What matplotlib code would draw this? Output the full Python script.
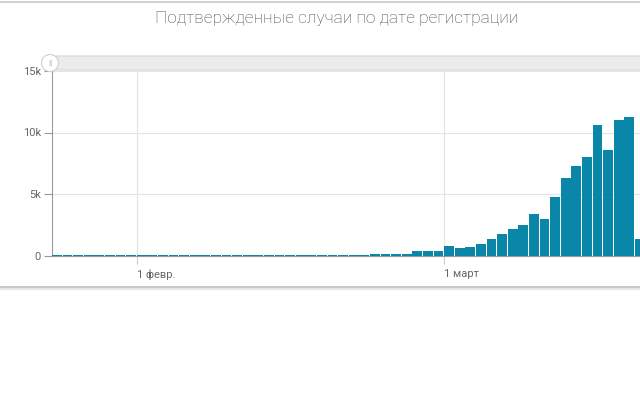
import datetime as dt
import matplotlib

matplotlib.use('Agg')
import matplotlib.pyplot as plt
import matplotlib.dates as mdates
from matplotlib.patches import FancyBboxPatch, Ellipse
from matplotlib.lines import Line2D

plt.rcParams['font.family'] = ['Roboto', 'DejaVu Sans']

# daily confirmed cases, 24 Jan .. 19 Mar 2020
start = dt.date(2020, 1, 24)
cases = [
    20, 25, 30, 28, 35, 30, 32, 30,                      # 24-31 Jan
    28, 30, 32, 30, 28, 30, 33, 30, 28, 30,              # 1-10 Feb
    32, 30, 28, 30, 30, 28, 30, 32, 30, 60,              # 11-20 Feb
    70, 65, 140, 130, 135, 140, 350, 350, 380,           # 21-29 Feb
    760, 600, 700, 920, 1330, 1730, 2140, 2470, 3360, 2980,   # 1-10 Mar
    4740, 6290, 7260, 7990, 10620, 8560, 11000, 11250, 1330,  # 11-19 Mar
]
dates = [start + dt.timedelta(days=i) for i in range(len(cases))]

title = 'Подтвержденные случаи по дате регистрации'
y_ticks = [0, 5000, 10000, 15000]
y_labels = ['0', '5k', '10k', '15k']
x_ticks = [dt.date(2020, 2, 1), dt.date(2020, 3, 1)]
x_labels = ['1 февр.', '1 март']

W, H = 640, 408
fig = plt.figure(figsize=(W / 100, H / 100), dpi=100)


def fx(px):
    return px / W


def fy(py):
    return 1 - py / H


# card borders
fig.add_artist(Line2D([0, 1], [fy(2), fy(2)], color='#c8c8c8', lw=1.2))
fig.add_artist(Line2D([0, 1], [fy(287), fy(287)], color='#bdbdbd', lw=1.2))
fig.add_artist(Line2D([0, 1], [fy(289), fy(289)], color='#e6e6e6', lw=1.5))

fig.text(fx(337), fy(19), title, ha='center', va='center', fontsize=12.5,
         color='#4a4a4a', fontweight='light')

# plot area
left, right, top, bottom = 52, 640, 71, 255.5
ax = fig.add_axes([fx(left), fy(bottom), fx(right - left), (bottom - top) / H])
ax.bar(dates, cases, width=0.93, align='edge', color='#0a86a8', zorder=3)

ax.set_xlim(mdates.date2num(start), mdates.date2num(start) + (right - left) / 10.6)
ax.set_ylim(0, 15000)
ax.set_yticks(y_ticks)
ax.set_yticklabels(y_labels)
ax.set_xticks(x_ticks)
ax.set_xticklabels(x_labels, ha='left')
ax.grid(True, color='#e4e4e4', lw=0.8, zorder=0)
ax.tick_params(axis='y', length=6, color='#999999', labelcolor='#666666',
               labelsize=8, pad=2)
ax.tick_params(axis='x', length=6, color='#cccccc', labelcolor='#666666',
               labelsize=8, pad=4)
for side in ['top', 'right']:
    ax.spines[side].set_visible(False)
ax.spines['left'].set_color('#9a9a9a')
ax.spines['bottom'].set_color('#9a9a9a')
ax.spines['left'].set_linewidth(0.8)
ax.spines['bottom'].set_linewidth(0.8)
ax.set_facecolor('white')

# range slider on top
fig.add_artist(FancyBboxPatch((fx(52), fy(70)), fx(620), (70 - 56) / H,
                              boxstyle='round,pad=0,rounding_size=0.01',
                              transform=fig.transFigure, facecolor='#ececec',
                              edgecolor='#d8d8d8', lw=0.8))
fig.add_artist(Ellipse((fx(50), fy(63)), fx(17), 17 / H, transform=fig.transFigure,
                       facecolor='white', edgecolor='#cfcfcf', lw=0.8, zorder=5))
fig.text(fx(50), fy(63), '||', ha='center', va='center', fontsize=6,
         color='#aaaaaa', zorder=6)

fig.savefig('out.png', dpi=100)
